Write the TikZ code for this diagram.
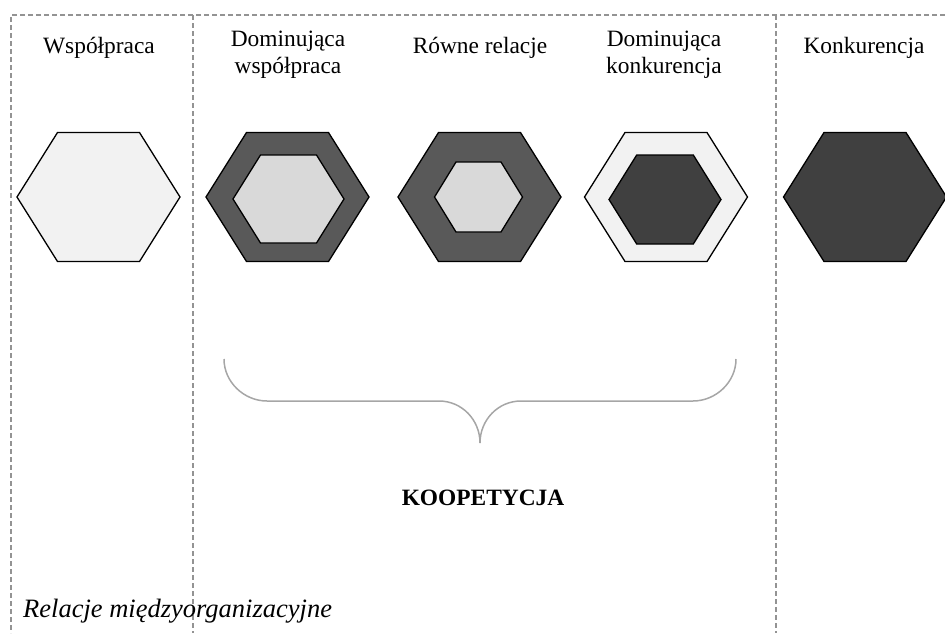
\documentclass[tikz,border=0pt]{standalone}
\usepackage{fontspec}
\setmainfont{Liberation Serif}
\definecolor{hexlight}{HTML}{F2F2F2}
\definecolor{hexpale}{HTML}{D9D9D9}
\definecolor{hexmid}{HTML}{595959}
\definecolor{hexdark}{HTML}{404040}
\definecolor{guide}{HTML}{939393}
\definecolor{bracegray}{HTML}{A6A6A6}
% flattened hexagon: centre (#1,#2), half width #3, half top edge #4, half height #5
\newcommand\hexshape[5]{({#1-#3},{#2}) -- ({#1-#4},{#2-#5}) -- ({#1+#4},{#2-#5}) -- ({#1+#3},{#2}) -- ({#1+#4},{#2+#5}) -- ({#1-#4},{#2+#5}) -- cycle}
\begin{document}
\begin{tikzpicture}[x=1pt,y=-1pt,
  guideline/.style={guide,line width=1.1pt,dash pattern=on 5pt off 3pt},
  hexline/.style={draw=black,line width=1.3pt,line join=miter},
  label/.style={inner sep=0pt,align=center,font=\fontsize{23.4}{26.6}\selectfont},
  bracket/.style={bracegray,line width=1.5pt}]
\useasboundingbox (0,0) rectangle (945,633);

% column guides
\draw[guideline] (945,15) -- (11,15) -- (11,633);
\draw[guideline] (193,15) -- (193,633);
\draw[guideline] (776,15) -- (776,633);

% column headings (two-line headings are placed by their last baseline)
\node[label,anchor=base] (lcoop) at (99,53) {Współpraca};
\node[label,anchor=base] (ldomcoop) at (288,73.5) {Dominująca\\współpraca};
\node[label,anchor=base] (leq) at (480,53) {Równe relacje};
\node[label,anchor=base] (ldomcomp) at (664,73.5) {Dominująca\\konkurencja};
\node[label,anchor=base] (lcomp) at (864,53) {Konkurencja};

% hexagons
\path[hexline,fill=hexlight] \hexshape{98.5}{197}{81.5}{41}{64.5};
\path[hexline,fill=hexmid] \hexshape{287.5}{197}{81.5}{41}{64.5};
\path[hexline,fill=hexpale] \hexshape{288.5}{199}{55.5}{28}{44};
\path[hexline,fill=hexmid] \hexshape{479.5}{197}{81.5}{41}{64.5};
\path[hexline,fill=hexpale] \hexshape{478.5}{197}{44}{22.5}{35};
\path[hexline,fill=hexlight] \hexshape{666}{197}{81.5}{41}{64.5};
\path[hexline,fill=hexdark] \hexshape{665}{199.5}{56}{28.3}{44.5};
\path[hexline,fill=hexdark] \hexshape{865}{197}{81.5}{41}{64.5};

% brace under the three middle columns
\coordinate (bl) at (224,359);
\coordinate (br) at (736,359);
\coordinate (btip) at (480,443);
\draw[bracket] (bl) .. controls (224,382) and (244,401) .. (267,401)
  -- (439,401) .. controls (462,401) and (480,420) .. (btip);
\draw[bracket] (br) .. controls (736,382) and (716,401) .. (693,401)
  -- (521,401) .. controls (498,401) and (480,420) .. (btip);

\node[label,anchor=base,font=\fontsize{23.4}{26.6}\selectfont\bfseries] (kop) at (483,505) {KOOPETYCJA};

\node[label,anchor=base west,font=\fontsize{26.5}{30}\selectfont\itshape] (rel) at (23,617) {Relacje międzyorganizacyjne};
\end{tikzpicture}
\end{document}
